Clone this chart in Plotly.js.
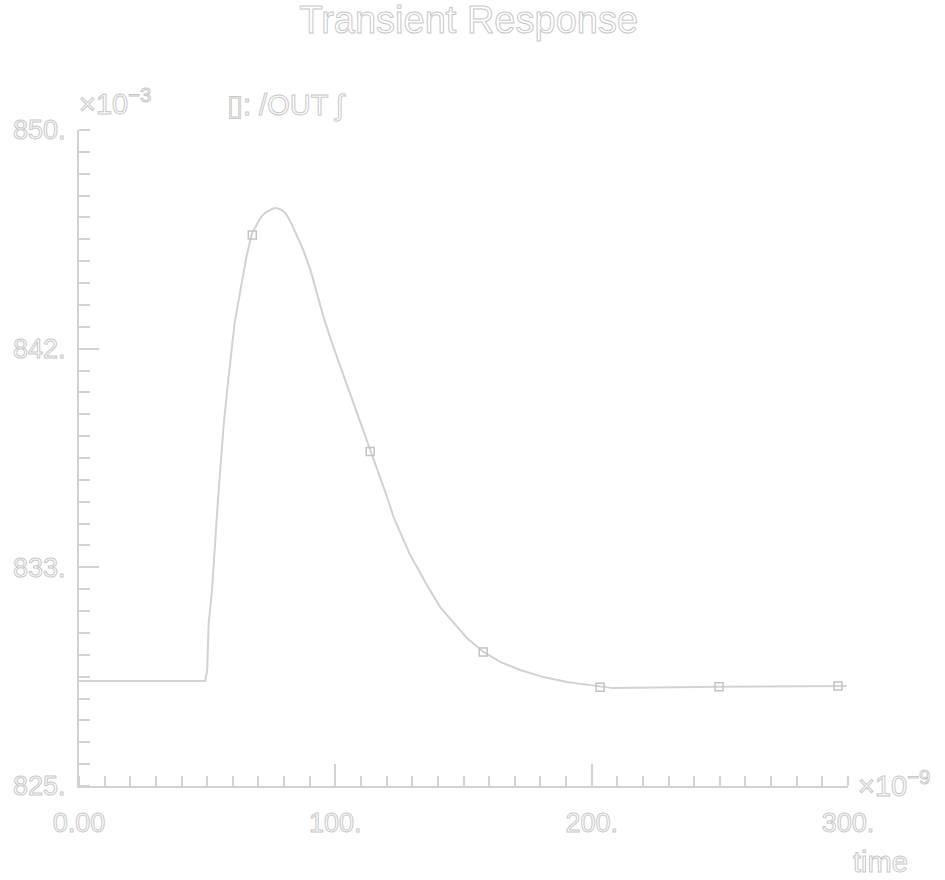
<!DOCTYPE html>
<html>
<head>
<meta charset="utf-8">
<script src="https://cdn.plot.ly/plotly-3.0.1.min.js"></script>
<style>
  html, body { margin: 0; padding: 0; background: #ffffff; }
  #chart { width: 945px; height: 880px; }
  #chart svg text { fill: #ffffff !important; stroke: #c8c8c8 !important; stroke-width: 1px; }
</style>
</head>
<body>
<div id="chart"></div>
<script>
// time in ns (axis scaled by 1e-9)
const timeNs = [0, 49.3, 50.0, 50.6, 51.9, 52.6, 53.6, 54.5, 55.4, 56.5, 57.8, 59.1, 60.7, 63.0, 65.3, 67.5, 69.2, 70.8, 72.7, 74.7, 76.0, 77.3, 79.0, 80.5, 82.0, 83.5, 85.5, 87.6, 90.3, 92.9, 95.4, 98.7, 102.0, 105.2, 108.5, 111.7, 114.9, 117.5, 120.2, 122.7, 126.0, 129.2, 132.5, 135.7, 140.9, 146.1, 151.3, 157.8, 164.3, 172.1, 181.2, 190.3, 198.1, 208.4, 249.7, 299.5];
// /OUT voltage in mV (axis scaled by 1e-3)
const outMv = [829.00, 829.00, 829.42, 831.21, 832.47, 833.73, 835.02, 836.28, 837.54, 838.83, 840.09, 841.35, 842.65, 843.90, 845.16, 846.07, 846.40, 846.65, 846.85, 846.97, 847.02, 847.02, 846.96, 846.84, 846.60, 846.30, 845.85, 845.40, 844.66, 843.79, 842.87, 841.88, 840.97, 840.09, 839.21, 838.30, 837.42, 836.78, 836.01, 835.25, 834.49, 833.80, 833.23, 832.66, 831.82, 831.21, 830.64, 830.11, 829.73, 829.42, 829.15, 828.96, 828.85, 828.73, 828.78, 828.81];
// marker positions along the trace
const markerNs = [67.6, 113.6, 157.7, 203.3, 249.7, 296.1];
const markerMv = [846.0, 837.75, 830.11, 828.76, 828.78, 828.81];
// tick labels
const xTickVals = [0, 100, 200, 300];
const xTickText = ["0.00", "100.", "200.", "300."];
const yTickVals = [825, 825 + 25 / 3, 825 + 50 / 3, 850];
const yTickText = ["825.", "833.", "842.", "850."];
const xMajorTicks = [100, 200];
const yMajorTicks = [825 + 25 / 3, 825 + 50 / 3];

const gray = '#d2d2d2';
const family = 'Liberation Sans, Arial, sans-serif';
const tickFont = { family: family, size: 27, color: '#dcdcdc' };
const annFont = { family: family, size: 29, color: '#dcdcdc' };

const traces = [
  {
    x: timeNs, y: outMv, type: 'scatter', mode: 'lines',
    line: { color: gray, width: 2 },
    hoverinfo: 'skip', showlegend: false
  },
  {
    x: markerNs, y: markerMv, type: 'scatter', mode: 'markers',
    xaxis: 'x2', yaxis: 'y2',
    marker: { symbol: 'square-open', size: 8, color: '#c4c4c4', line: { width: 1.5, color: '#c4c4c4' } },
    hoverinfo: 'skip', showlegend: false
  }
];

const layout = {
  width: 945, height: 880,
  paper_bgcolor: '#ffffff', plot_bgcolor: '#ffffff',
  margin: { l: 78.5, r: 97, t: 130, b: 94 },
  showlegend: false,
  title: {
    text: 'Transient Response',
    font: { family: family, size: 38, color: '#dcdcdc' },
    xref: 'container', x: 0.496, xanchor: 'center',
    yref: 'container', y: 1 - 20 / 880, yanchor: 'middle'
  },
  xaxis: {
    range: [0, 300], showgrid: false, zeroline: false,
    showline: true, linecolor: gray, linewidth: 2,
    tickmode: 'array', tickvals: xTickVals, ticktext: xTickText,
    ticks: '', tickfont: tickFont, ticklabelstandoff: 12,
    minor: { dtick: 10, tick0: 0, ticks: 'inside', ticklen: 10, tickwidth: 2, tickcolor: gray, showgrid: false }
  },
  yaxis: {
    range: [825, 850], showgrid: false, zeroline: false,
    showline: true, linecolor: gray, linewidth: 2,
    tickmode: 'array', tickvals: yTickVals, ticktext: yTickText,
    ticks: '', tickfont: tickFont, ticklabelstandoff: 6,
    minor: { dtick: 25 / 30, tick0: 825, ticks: 'inside', ticklen: 11, tickwidth: 2, tickcolor: gray, showgrid: false }
  },
  xaxis2: {
    overlaying: 'x', anchor: 'y2', range: [0, 300],
    showgrid: false, zeroline: false, showline: false, showticklabels: false,
    tickmode: 'array', tickvals: xMajorTicks, ticks: 'inside', ticklen: 22, tickwidth: 2, tickcolor: gray
  },
  yaxis2: {
    overlaying: 'y', anchor: 'x2', range: [825, 850],
    showgrid: false, zeroline: false, showline: false, showticklabels: false,
    tickmode: 'array', tickvals: yMajorTicks, ticks: 'inside', ticklen: 20, tickwidth: 2, tickcolor: gray
  },
  annotations: [
    { xref: 'paper', yref: 'paper', x: 0, y: 1, xanchor: 'left', yanchor: 'bottom', yshift: 8, xshift: -2,
      text: '×10<sup>−3</sup>', showarrow: false, font: annFont },
    { xref: 'paper', yref: 'paper', x: 0.19, y: 1, xanchor: 'left', yanchor: 'bottom', yshift: 6,
      text: '▯: /OUT ∫', showarrow: false, font: annFont },
    { xref: 'paper', yref: 'paper', x: 1, y: 0, xanchor: 'left', yanchor: 'middle', xshift: 8, yshift: 2,
      text: '×10<sup>−9</sup>', showarrow: false, font: annFont },
    { xref: 'paper', yref: 'paper', x: 1, y: 0, xanchor: 'left', yanchor: 'top', xshift: 3, yshift: -58,
      text: 'time', showarrow: false, font: annFont }
  ]
};

Plotly.newPlot('chart', traces, layout, { staticPlot: true, displayModeBar: false });
</script>
</body>
</html>
